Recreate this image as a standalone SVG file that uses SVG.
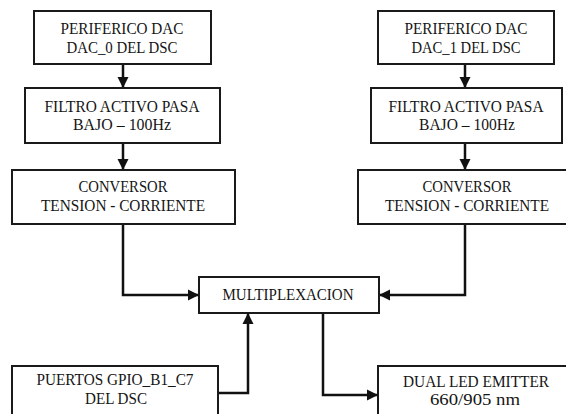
<svg xmlns="http://www.w3.org/2000/svg" width="566" height="414" viewBox="0 0 566 414">
<style>
.box{fill:#fff;stroke:#1a1a1a;stroke-width:2}
.t{font-family:"Liberation Serif",serif;font-size:16px;fill:#151515;text-anchor:middle}
.c{fill:none;stroke:#111;stroke-width:2.5}
</style>
<defs>
<marker id="ah" markerUnits="userSpaceOnUse" markerWidth="12" markerHeight="12" viewBox="0 0 12 12" refX="11" refY="6" orient="auto">
<path d="M0,0.5 L11,6 L0,11.5 Z" fill="#111"/>
</marker>
</defs>
<rect width="566" height="414" fill="#fff"/>
<g id="connectors">
<path class="c" d="M123,65 V88" marker-end="url(#ah)"/>
<path class="c" d="M123,144 V170" marker-end="url(#ah)"/>
<path class="c" d="M465,65 V88" marker-end="url(#ah)"/>
<path class="c" d="M465,144 V170" marker-end="url(#ah)"/>
<path class="c" d="M123,224 V295 H199" marker-end="url(#ah)"/>
<path class="c" d="M465,224 V295 H379" marker-end="url(#ah)"/>
<path class="c" d="M218,393 H248 V313" marker-end="url(#ah)"/>
<path class="c" d="M323,313 V395 H378" marker-end="url(#ah)"/>
</g>
<g id="dac0">
<rect class="box" x="34" y="11" width="177" height="53"/>
<text class="t" x="122" y="34" textLength="123" lengthAdjust="spacingAndGlyphs">PERIFERICO DAC</text>
<text class="t" x="122" y="53" textLength="111" lengthAdjust="spacingAndGlyphs">DAC_0 DEL DSC</text>
</g>
<g id="filtro0">
<rect class="box" x="25" y="88" width="195" height="55"/>
<text class="t" x="122" y="112" textLength="155" lengthAdjust="spacingAndGlyphs">FILTRO ACTIVO PASA</text>
<text class="t" x="122" y="130" textLength="98" lengthAdjust="spacingAndGlyphs">BAJO – 100Hz</text>
</g>
<g id="conv0">
<rect class="box" x="12" y="170" width="223" height="54"/>
<text class="t" x="123" y="192" textLength="89" lengthAdjust="spacingAndGlyphs">CONVERSOR</text>
<text class="t" x="123" y="211" textLength="164" lengthAdjust="spacingAndGlyphs">TENSION - CORRIENTE</text>
</g>
<g id="dac1">
<rect class="box" x="378" y="11" width="176" height="53"/>
<text class="t" x="466" y="34" textLength="123" lengthAdjust="spacingAndGlyphs">PERIFERICO DAC</text>
<text class="t" x="466" y="53" textLength="109" lengthAdjust="spacingAndGlyphs">DAC_1 DEL DSC</text>
</g>
<g id="filtro1">
<rect class="box" x="371" y="88" width="191" height="55"/>
<text class="t" x="466" y="112" textLength="155" lengthAdjust="spacingAndGlyphs">FILTRO ACTIVO PASA</text>
<text class="t" x="467" y="130" textLength="96" lengthAdjust="spacingAndGlyphs">BAJO – 100Hz</text>
</g>
<g id="conv1">
<rect class="box" x="358" y="170" width="220" height="54"/>
<text class="t" x="467" y="192" textLength="89" lengthAdjust="spacingAndGlyphs">CONVERSOR</text>
<text class="t" x="467" y="211" textLength="164" lengthAdjust="spacingAndGlyphs">TENSION - CORRIENTE</text>
</g>
<g id="mux">
<rect class="box" x="199" y="277" width="180" height="36"/>
<text class="t" x="288" y="300" textLength="131" lengthAdjust="spacingAndGlyphs">MULTIPLEXACION</text>
</g>
<g id="gpio">
<rect class="box" x="12" y="366" width="206" height="60"/>
<text class="t" x="115" y="385" textLength="157" lengthAdjust="spacingAndGlyphs">PUERTOS GPIO_B1_C7</text>
<text class="t" x="116" y="404" textLength="62" lengthAdjust="spacingAndGlyphs">DEL DSC</text>
</g>
<g id="led">
<rect class="box" x="378" y="366" width="200" height="60"/>
<text class="t" x="476" y="387" textLength="146" lengthAdjust="spacingAndGlyphs">DUAL LED EMITTER</text>
<text class="t" x="475" y="405" textLength="90" lengthAdjust="spacingAndGlyphs">660/905 nm</text>
</g>
</svg>
